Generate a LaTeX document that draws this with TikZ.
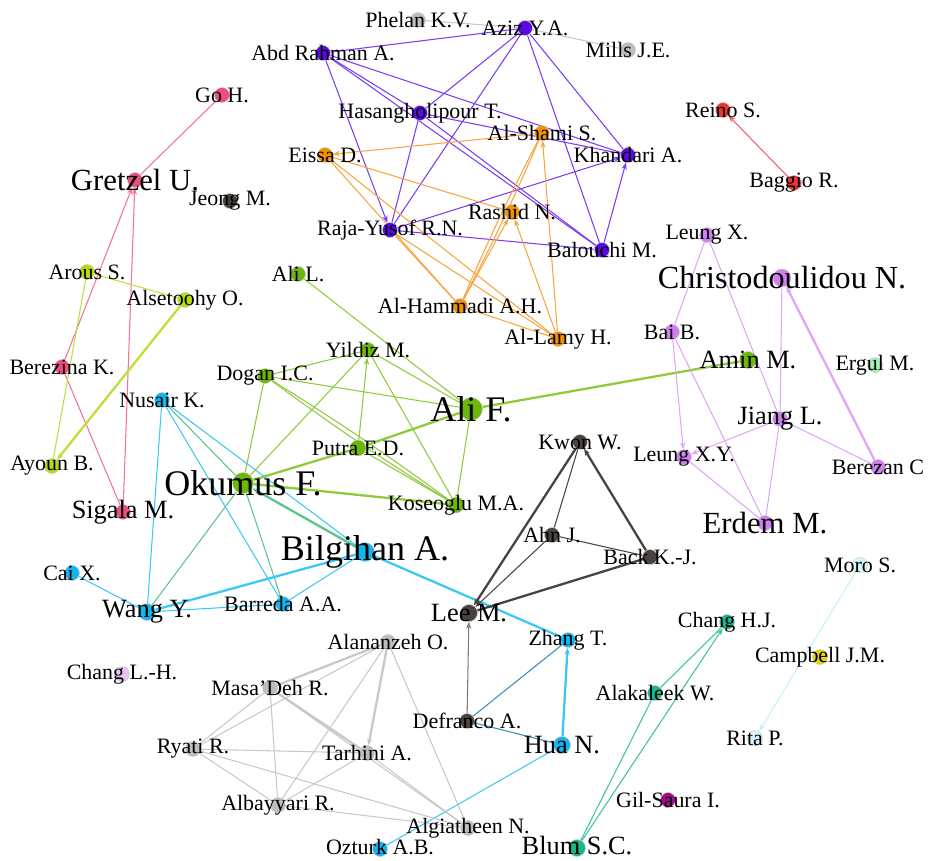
\documentclass[tikz,border=0pt]{standalone}
\usepackage{fontspec}
\setmainfont{Liberation Serif}
\usepackage{tikz}
\usetikzlibrary{arrows.meta, backgrounds}
\definecolor{cpurple}{HTML}{5A08E4}
\definecolor{cpurpleln}{HTML}{7A3CF3}
\definecolor{corange}{HTML}{F39200}
\definecolor{corangeln}{HTML}{F8A540}
\definecolor{cgreen}{HTML}{6CB80A}
\definecolor{cgreenln}{HTML}{8DCB3A}
\definecolor{clime}{HTML}{B4DC10}
\definecolor{climeln}{HTML}{BCE03A}
\definecolor{cpink}{HTML}{EE4E7E}
\definecolor{cpinkln}{HTML}{F2729A}
\definecolor{ccyan}{HTML}{12B6EE}
\definecolor{ccyanln}{HTML}{3CC8F5}
\definecolor{cmixln}{HTML}{5CC38C}
\definecolor{cdark}{HTML}{48433F}
\definecolor{cviolet}{HTML}{CF80EE}
\definecolor{cvioletln}{HTML}{DFA6F6}
\definecolor{cgray}{HTML}{BDBDBD}
\definecolor{cgrayln}{HTML}{C8C8C8}
\definecolor{cred}{HTML}{EC3434}
\definecolor{credln}{HTML}{F26060}
\definecolor{cteal}{HTML}{1DB58E}
\definecolor{ctealln}{HTML}{3CC49E}
\definecolor{cice}{HTML}{D6F6FC}
\definecolor{ciceln}{HTML}{C2F2FB}
\definecolor{cyellow}{HTML}{E5D500}
\definecolor{cmagenta}{HTML}{9C0C8C}
\definecolor{cmint}{HTML}{A6EEB5}
\definecolor{clilac}{HTML}{E6C4F6}
\definecolor{csteel}{HTML}{3C8CB4}

\begin{document}
\begin{tikzpicture}[x=0.02cm, y=-0.02cm, >={Stealth[length=4pt,width=3pt]},
    au/.style={circle, inner sep=0pt, minimum size=3mm, draw=black!20, line width=0.3pt},
    lab/.style={font=\fontsize{12.5}{14}\selectfont, inner sep=0pt},
    labm/.style={font=\fontsize{15}{17}\selectfont, inner sep=0pt},
    labl/.style={font=\fontsize{17.5}{20}\selectfont, inner sep=0pt},
    labxl/.style={font=\fontsize{20.5}{23}\selectfont, inner sep=0pt},
    link/.style={line width=0.6pt},
    heavy/.style={line width=1.3pt}]
    \useasboundingbox (0,0) rectangle (932,860);

    % Nodes
    \node[au, fill=cgray, label={[lab]center:Phelan K.V.}] (phelan) at (418,20) {};
    \node[au, fill=cpurple, label={[lab]center:Aziz Y.A.}] (aziz) at (525,28) {};
    \node[au, fill=cgray, label={[lab]center:Mills J.E.}] (mills) at (628,50) {};
    \node[au, fill=cpurple, label={[lab]center:Abd Rahman A.}] (abdrahman) at (323,53) {};
    \node[au, fill=cpurple, label={[lab]center:Hasangholipour T.}] (hasan) at (420,113) {};
    \node[au, fill=corange, label={[lab]center:Al-Shami S.}] (alshami) at (542,133) {};
    \node[au, fill=corange, label={[lab]center:Eissa D.}] (eissa) at (325,155) {};
    \node[au, fill=cpurple, label={[lab]center:Khandari A.}] (khandari) at (628,155) {};
    \node[au, fill=corange, label={[lab]center:Rashid N.}] (rashid) at (512,212) {};
    \node[au, fill=cpurple, label={[lab]center:Raja-Yusof R.N.}] (rajayusof) at (390,230) {};
    \node[au, fill=cpurple, label={[lab]center:Balouchi M.}] (balouchi) at (602,250) {};
    \node[au, fill=corange, label={[lab]center:Al-Hammadi A.H.}] (alhammadi) at (460,306) {};
    \node[au, fill=corange, label={[lab]center:Al-Lamy H.}] (allamy) at (558,339) {};
    \node[au, fill=cred, label={[lab]center:Reino S.}] (reino) at (723,110) {};
    \node[au, fill=cred, label={[lab]center:Baggio R.}] (baggio) at (794,183) {};

    \node[au, fill=cpink, label={[lab]center:Go H.}] (goh) at (222,95) {};
    \node[au, fill=cpink, label={[labl]center:Gretzel U.}] (gretzel) at (135,180) {};
    \node[au, fill=cdark, label={[lab]center:Jeong M.}] (jeong) at (230,201) {};
    \node[au, fill=clime, label={[lab]center:Arous S.}] (arous) at (87,272) {};
    \node[au, fill=clime, label={[lab]center:Alsetoohy O.}] (alsetoohy) at (185,300) {};
    \node[au, fill=cgreen, label={[lab]center:Ali L.}] (alil) at (298,274) {};
    \node[au, fill=cpink, label={[lab]center:Berezina K.}] (berezina) at (62,367) {};
    \node[au, fill=clime, label={[lab]center:Ayoun B.}] (ayoun) at (52,466) {};
    \node[au, fill=cpink, label={[labm]center:Sigala M.}] (sigala) at (123,512) {};

    \node[au, fill=ccyan, label={[lab]center:Nusair K.}] (nusair) at (162,400) {};
    \node[au, fill=cgreen, label={[lab]center:Dogan I.C.}] (dogan) at (265,376) {};
    \node[au, fill=cgreen, label={[lab]center:Yildiz M.}] (yildiz) at (368,350) {};
    \node[au, fill=cgreen, minimum size=4.6mm, label={[labxl]center:Ali F.}] (alif) at (471,409) {};
    \node[au, fill=cgreen, minimum size=3.2mm, label={[lab]center:Putra E.D.}] (putra) at (358,448) {};
    \node[au, fill=cgreen, minimum size=4.2mm, label={[labxl]center:Okumus F.}] (okumus) at (243,483) {};
    \node[au, fill=cgreen, minimum size=3.2mm, label={[lab]center:Koseoglu M.A.}] (koseoglu) at (456,505) {};
    \node[au, fill=cgreen, minimum size=3.4mm, label={[labm]center:Amin M.}] (amin) at (748,360) {};
    \node[au, fill=ccyan, minimum size=3.8mm, label={[labxl]center:Bilgihan A.}] (bilgihan) at (365,552) {};
    \node[au, fill=ccyan, label={[lab]center:Cai X.}] (cai) at (72,573) {};
    \node[au, fill=ccyan, minimum size=3.4mm, label={[labm]center:Wang Y.}] (wang) at (147,612) {};
    \node[au, fill=ccyan, label={[lab]center:Barreda A.A.}] (barreda) at (283,604) {};

    \node[au, fill=cdark, label={[lab]center:Kwon W.}] (kwon) at (580,442) {};
    \node[au, fill=cdark, label={[lab]center:Ahn J.}] (ahn) at (552,535) {};
    \node[au, fill=cdark, label={[lab]center:Back K.-J.}] (back) at (650,557) {};
    \node[au, fill=cdark, minimum size=3.4mm, label={[labm]center:Lee M.}] (lee) at (469,613) {};
    \node[au, fill=ccyan, label={[lab]center:Zhang T.}] (zhang) at (568,640) {};
    \node[au, fill=cdark, label={[lab]center:Defranco A.}] (defranco) at (467,721) {};
    \node[au, fill=ccyan, minimum size=3.4mm, label={[labm]center:Hua N.}] (hua) at (562,745) {};

    \node[au, fill=cviolet, label={[lab]center:Leung X.}] (leungx) at (707,235) {};
    \node[au, fill=cviolet, minimum size=3.6mm, label={[font=\fontsize{18.3}{21}\selectfont, inner sep=0pt]center:Christodoulidou N.}] (christo) at (782,278) {};
    \node[au, fill=cviolet, label={[lab]center:Bai B.}] (bai) at (672,332) {};
    \node[au, fill=cmint, label={[lab]center:Ergul M.}] (ergul) at (875,365) {};
    \node[au, fill=cviolet, label={[labm]center:Jiang L.}] (jiang) at (780,419) {};
    \node[au, fill=cviolet, label={[lab]center:Leung X.Y.}] (leungxy) at (684,457) {};
    \node[au, fill=cviolet, label={[lab]center:Berezan C}] (berezan) at (878,467) {};
    \node[au, fill=cviolet, label={[labl]center:Erdem M.}] (erdem) at (765,523) {};

    \node[au, fill=cice, label={[lab]center:Moro S.}] (moro) at (860,565) {};
    \node[au, fill=cteal, label={[lab]center:Chang H.J.}] (changhj) at (727,622) {};
    \node[au, fill=cyellow, label={[lab]center:Campbell J.M.}] (campbell) at (820,657) {};
    \node[au, fill=cteal, label={[lab]center:Alakaleek W.}] (alakaleek) at (655,693) {};
    \node[au, fill=cice, label={[lab]center:Rita P.}] (rita) at (755,738) {};
    \node[au, fill=cmagenta, label={[lab]center:Gil-Saura I.}] (gilsaura) at (668,800) {};
    \node[au, fill=cteal, minimum size=3.4mm, label={[labm, yshift=1.5pt]center:Blum S.C.}] (blum) at (577,848) {};

    \node[au, fill=clilac, label={[lab]center:Chang L.-H.}] (changlh) at (122,674) {};
    \node[au, fill=cgray, label={[lab]center:Alananzeh O.}] (alananzeh) at (388,642) {};
    \node[au, fill=cgray, label={[lab]center:Masa’Deh R.}] (masadeh) at (270,688) {};
    \node[au, fill=cgray, label={[lab]center:Ryati R.}] (ryati) at (193,749) {};
    \node[au, fill=cgray, label={[lab]center:Tarhini A.}] (tarhini) at (367,753) {};
    \node[au, fill=cgray, label={[lab]center:Albayyari R.}] (albayyari) at (278,805) {};
    \node[au, fill=cgray, label={[lab]center:Algiatheen N.}] (algiatheen) at (468,828) {};
    \node[au, fill=ccyan, label={[lab, yshift=1pt]center:Ozturk A.B.}] (ozturk) at (380,849) {};

    % Paths
    \begin{pgfonlayer}{background}
    \draw[link, cgrayln] (aziz) -- (phelan);
    \draw[link, cgrayln] (aziz) -- (mills);
    \draw[link, cpurpleln] (abdrahman) -- (aziz);
    \draw[link, cpurpleln, ->] (abdrahman) -- (rajayusof);
    \draw[link, cpurpleln] (abdrahman) -- (hasan);
    \draw[link, cpurpleln] (abdrahman) -- (balouchi);
    \draw[link, cpurpleln] (abdrahman) -- (khandari);
    \draw[link, cpurpleln] (aziz) -- (hasan);
    \draw[link, cpurpleln] (aziz) -- (rajayusof);
    \draw[link, cpurpleln] (aziz) -- (balouchi);
    \draw[link, cpurpleln] (aziz) -- (khandari);
    \draw[link, cpurpleln] (hasan) -- (rajayusof);
    \draw[link, cpurpleln] (hasan) -- (khandari);
    \draw[link, cpurpleln] (hasan) -- (balouchi);
    \draw[link, cpurpleln, ->] (rajayusof) -- (khandari);
    \draw[link, cpurpleln] (rajayusof) -- (balouchi);
    \draw[link, cpurpleln, ->] (balouchi) -- (khandari);

    \draw[link, corangeln, ->] (alshami) -- (eissa);
    \draw[link, corangeln] (eissa) -- (rashid);
    \draw[link, corangeln] (eissa) -- (alhammadi);
    \draw[link, corangeln] (eissa) -- (allamy);
    \draw[link, corangeln] (rajayusof) -- (alhammadi);
    \draw[link, corangeln] (rajayusof) -- (allamy);
    \draw[link, corangeln] (alhammadi) to[bend left=2] (alshami);
    \draw[link, corangeln] (alhammadi) to[bend right=2] (alshami);
    \draw[link, corangeln, ->] (alhammadi) -- (rashid);
    \draw[link, corangeln] (alhammadi) -- (allamy);
    \draw[link, corangeln, ->] (allamy) -- (rashid);
    \draw[link, corangeln, ->] (allamy) -- (alshami);
    \draw[link, credln, ->] (baggio) -- (reino);

    \draw[link, cpinkln] (goh) -- (gretzel);
    \draw[link, cpinkln, ->] (berezina) -- (gretzel);
    \draw[link, cpinkln, ->] (sigala) -- (gretzel);
    \draw[link, cpinkln] (berezina) -- (sigala);
    \draw[link, climeln] (arous) -- (alsetoohy);
    \draw[link, climeln] (arous) -- (ayoun);
    \draw[heavy, climeln, ->] (alsetoohy) -- (ayoun);

    \draw[link, cgreenln] (alil) -- (alif);
    \draw[link, cgreenln] (dogan) -- (yildiz);
    \draw[link, cgreenln] (dogan) -- (alif);
    \draw[link, cgreenln] (dogan) to[bend left=2] (koseoglu);
    \draw[link, cgreenln] (dogan) to[bend right=2] (koseoglu);
    \draw[link, cgreenln] (dogan) -- (okumus);
    \draw[link, cgreenln] (okumus) -- (yildiz);
    \draw[link, cgreenln, ->] (putra) -- (yildiz);
    \draw[link, cgreenln] (yildiz) -- (alif);
    \draw[link, cgreenln] (yildiz) -- (koseoglu);
    \draw[heavy, cgreenln] (putra) -- (alif);
    \draw[heavy, cgreenln] (okumus) -- (putra);
    \draw[link, cgreenln] (putra) -- (koseoglu);
    \draw[heavy, cgreenln] (okumus) -- (koseoglu);
    \draw[link, cgreenln] (alif) -- (koseoglu);
    \draw[heavy, cgreenln] (alif) -- (amin);
    \draw[link, cmixln] (okumus) -- (nusair);
    \draw[link, cmixln] (okumus) -- (wang);
    \draw[link, cmixln] (okumus) -- (barreda);
    \draw[heavy, cmixln, ->] (bilgihan) -- (okumus);

    \draw[link, ccyanln] (nusair) -- (wang);
    \draw[link, ccyanln] (nusair) -- (barreda);
    \draw[link, ccyanln] (nusair) -- (bilgihan);
    \draw[link, ccyanln] (cai) -- (wang);
    \draw[heavy, ccyanln] (wang) -- (bilgihan);
    \draw[link, ccyanln] (wang) -- (barreda);
    \draw[link, ccyanln] (barreda) -- (bilgihan);
    \draw[heavy, ccyanln] (bilgihan) -- (zhang);
    \draw[heavy, ccyanln, ->] (hua) -- (zhang);
    \draw[link, ccyanln] (hua) -- (ozturk);
    \draw[link, csteel] (defranco) -- (zhang);
    \draw[link, csteel] (defranco) -- (hua);

    \draw[heavy, cdark, ->] (kwon) -- (lee);
    \draw[link, cdark, ->] (ahn) -- (lee);
    \draw[link, cdark] (ahn) -- (kwon);
    \draw[link, cdark] (ahn) -- (back);
    \draw[heavy, cdark, ->] (back) -- (kwon);
    \draw[heavy, cdark] (back) -- (lee);
    \draw[link, cdark!70, ->] (defranco) -- (lee);

    \draw[link, cvioletln] (leungx) -- (bai);
    \draw[link, cvioletln] (leungx) -- (jiang);
    \draw[link, cvioletln] (christo) -- (jiang);
    \draw[heavy, cvioletln, ->] (berezan) -- (christo);
    \draw[link, cvioletln, ->] (bai) -- (leungxy);
    \draw[link, cvioletln] (bai) -- (erdem);
    \draw[link, cvioletln, ->] (jiang) -- (leungxy);
    \draw[link, cvioletln] (jiang) -- (erdem);
    \draw[link, cvioletln] (jiang) -- (berezan);
    \draw[link, cvioletln] (leungxy) -- (erdem);

    \draw[link, ctealln] (alakaleek) -- (changhj);
    \draw[link, ctealln, ->] (blum) -- (changhj);
    \draw[link, ctealln] (blum) -- (alakaleek);
    \draw[link, ciceln, ->] (moro) -- (rita);

    \draw[heavy, cgrayln] (alananzeh) -- (masadeh);
    \draw[link, cgrayln] (alananzeh) -- (ryati);
    \draw[heavy, cgrayln, ->] (alananzeh) -- (tarhini);
    \draw[link, cgrayln] (alananzeh) -- (albayyari);
    \draw[link, cgrayln] (alananzeh) -- (algiatheen);
    \draw[link, cgrayln] (masadeh) -- (ryati);
    \draw[link, cgrayln] (masadeh) -- (albayyari);
    \draw[heavy, cgrayln] (masadeh) -- (tarhini);
    \draw[link, cgrayln] (masadeh) -- (algiatheen);
    \draw[link, cgrayln] (ryati) -- (tarhini);
    \draw[link, cgrayln] (ryati) -- (albayyari);
    \draw[link, cgrayln] (ryati) -- (algiatheen);
    \draw[link, cgrayln] (tarhini) -- (albayyari);
    \draw[link, cgrayln] (tarhini) -- (algiatheen);
    \draw[link, cgrayln] (albayyari) -- (algiatheen);
    \end{pgfonlayer}
\end{tikzpicture}
\end{document}
